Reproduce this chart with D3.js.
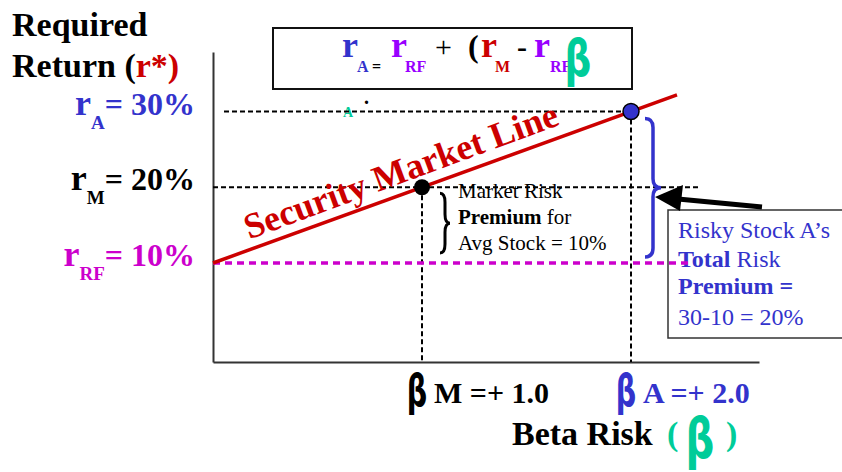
<!DOCTYPE html>
<html>
<head>
<meta charset="utf-8">
<script src="https://cdn.jsdelivr.net/npm/d3@7"></script>
<style>
body { margin: 0; background: #fff; }
svg { display: block; }
</style>
</head>
<body>
<div id="chart"></div>
<script>
// 증권시장선 (SML) 데이터
var betas = [0, 1, 2];
var returns = [10, 20, 30];
var pointNames = ["RF", "M", "A"];
var valueLabels = ["= 10%", "= 20%", "= 30%"];
var smlBeta = [0, 2.22];
var smlReturn = [10, 32.2];
var betaLabels = ["M =+ 1.0", "A =+ 2.0"];

var serif = "'Liberation Serif', 'Times New Roman', serif";
var blue = "#3333cc", magenta = "#cc00cc", red = "#cc0000", purple = "#9900ff", teal = "#00cc99";
var labelColor = [magenta, "#000", blue];

var svg = d3.select("#chart").append("svg")
    .attr("width", 842)
    .attr("height", 472);

var x = d3.scaleLinear().domain([0, 2]).range([213, 631]);
var y = d3.scaleLinear().domain([10, 30]).range([263, 111.5]);
var axisY = 362;

// axes (no ticks)
var xa = x.copy().domain([0, x.invert(759)]).range([213, 759]);
svg.append("g").attr("transform", "translate(0," + axisY + ")")
    .call(d3.axisBottom(xa).tickValues([]).tickSizeOuter(0))
    .select(".domain").attr("stroke", "#333").attr("stroke-width", 2);
var ya = y.copy().domain([y.invert(axisY), y.invert(52)]).range([axisY, 52]);
svg.append("g").attr("transform", "translate(213,0)")
    .call(d3.axisLeft(ya).tickValues([]).tickSizeOuter(0))
    .select(".domain").attr("stroke", "#333").attr("stroke-width", 2);

// 수식 박스
svg.append("rect")
    .attr("x", 273).attr("y", 28).attr("width", 359).attr("height", 61)
    .attr("fill", "none").attr("stroke", "#111").attr("stroke-width", 2);

var formula = [
    {t: "r", x: 342, y: 57, s: 36, c: blue},
    {t: "A", x: 357, y: 72, s: 16, c: blue},
    {t: "=", x: 372, y: 72, s: 16, c: "#000"},
    {t: "r", x: 391, y: 57, s: 36, c: purple},
    {t: "RF", x: 405, y: 72, s: 16, c: purple},
    {t: "+", x: 435, y: 57, s: 30, c: "#000", w: "normal"},
    {t: "(", x: 468, y: 57, s: 32, c: "#000"},
    {t: "r", x: 481, y: 57, s: 36, c: red},
    {t: "M", x: 495, y: 72, s: 16, c: red},
    {t: "-", x: 517, y: 57, s: 30, c: "#000"},
    {t: "r", x: 534, y: 57, s: 36, c: purple},
    {t: "RF", x: 550, y: 72, s: 16, c: purple}
];
formula.forEach(function(d) {
    svg.append("text")
        .attr("x", d.x).attr("y", d.y)
        .text(d.t)
        .attr("font-family", serif)
        .attr("font-weight", d.w || "bold")
        .style("font-size", d.s + "px")
        .attr("fill", d.c);
});

// beta glyph helper
function beta(cx, base, size, color, sx) {
    svg.append("text")
        .attr("transform", "translate(" + cx + "," + base + ") scale(" + sx + ",1)")
        .attr("text-anchor", "middle")
        .text("β")
        .attr("font-family", "'DejaVu Sans', sans-serif")
        .attr("font-weight", "bold")
        .style("font-size", size + "px")
        .attr("fill", color);
}
beta(578, 76, 52, teal, 0.72);

svg.append("text").attr("x", 343).attr("y", 117).text("A")
    .attr("font-family", serif).attr("font-weight", "bold")
    .style("font-size", "14px").attr("fill", teal);
svg.append("text").attr("x", 364).attr("y", 104).text(".")
    .attr("font-family", serif).attr("font-weight", "bold")
    .style("font-size", "20px").attr("fill", "#000");

// 점선
svg.append("line")
    .attr("x1", 224).attr("y1", y(returns[2])).attr("x2", x(betas[2])).attr("y2", y(returns[2]))
    .attr("stroke", "#000").attr("stroke-width", 2).attr("stroke-dasharray", "5,3");
svg.append("line")
    .attr("x1", 213).attr("y1", y(returns[1])).attr("x2", 700).attr("y2", y(returns[1]))
    .attr("stroke", "#000").attr("stroke-width", 2).attr("stroke-dasharray", "5,3");
for (var i = 1; i < 3; i++) {
    svg.append("line")
        .attr("x1", x(betas[i])).attr("y1", y(returns[i]))
        .attr("x2", x(betas[i])).attr("y2", axisY)
        .attr("stroke", "#000").attr("stroke-width", 2).attr("stroke-dasharray", "5,3");
}

// 오른쪽 박스
svg.append("rect")
    .attr("x", 668).attr("y", 210).attr("width", 200).attr("height", 128)
    .attr("fill", "#fff").attr("stroke", "#333").attr("stroke-width", 1.5);
var boxLines = [
    [{t: "Risky Stock A’s", w: "normal"}],
    [{t: "Total", w: "bold"}, {t: " Risk", w: "normal"}],
    [{t: "Premium =", w: "bold"}],
    [{t: "30-10 = 20%", w: "normal"}]
];
var boxBase = [238, 267, 294, 325];
boxLines.forEach(function(line, i) {
    var tx = svg.append("text").attr("x", 678).attr("y", boxBase[i])
        .attr("font-family", serif).style("font-size", "24px").attr("fill", blue);
    line.forEach(function(p) { tx.append("tspan").text(p.t).attr("font-weight", p.w); });
});

// 무위험 수익률 선
svg.append("line")
    .attr("x1", 213).attr("y1", y(returns[0])).attr("x2", 690).attr("y2", y(returns[0]))
    .attr("stroke", magenta).attr("stroke-width", 3.5).attr("stroke-dasharray", "7,5");

// SML
svg.append("line")
    .attr("x1", x(smlBeta[0])).attr("y1", y(smlReturn[0]))
    .attr("x2", x(smlBeta[1])).attr("y2", y(smlReturn[1]))
    .attr("stroke", red).attr("stroke-width", 3.5);

svg.append("text")
    .attr("transform", "translate(405,182) rotate(-20.3)")
    .attr("text-anchor", "middle")
    .text("Security Market Line")
    .attr("font-family", serif).attr("font-weight", "bold")
    .style("font-size", "36px").attr("fill", red);

// 점
svg.append("circle").attr("cx", x(betas[1])).attr("cy", y(returns[1])).attr("r", 8).attr("fill", "#000");
svg.append("circle").attr("cx", x(betas[2])).attr("cy", y(returns[2])).attr("r", 8)
    .attr("fill", blue).attr("stroke", "#000").attr("stroke-width", 1.5);

// braces
function brace(bx, y1, y2, w) {
    var ym = (y1 + y2) / 2, h = w / 2, r = 9;
    return "M" + bx + "," + y1 + " Q" + (bx + h) + "," + y1 + " " + (bx + h) + "," + (y1 + r) +
        " L" + (bx + h) + "," + (ym - r) + " Q" + (bx + h) + "," + ym + " " + (bx + w) + "," + ym +
        " Q" + (bx + h) + "," + ym + " " + (bx + h) + "," + (ym + r) +
        " L" + (bx + h) + "," + (y2 - r) + " Q" + (bx + h) + "," + y2 + " " + bx + "," + y2;
}
svg.append("path").attr("d", brace(645, y(returns[2]) + 7, y(returns[0]) - 6, 16))
    .attr("fill", "none").attr("stroke", blue).attr("stroke-width", 3.5);
svg.append("path").attr("d", brace(440, y(returns[1]) + 6, y(returns[0]) - 10, 10))
    .attr("fill", "none").attr("stroke", "#000").attr("stroke-width", 3);

// 화살표
svg.append("line").attr("x1", 678).attr("y1", 199).attr("x2", 762).attr("y2", 207)
    .attr("stroke", "#000").attr("stroke-width", 5);
svg.append("polygon").attr("points", "655,197 683,185 680,211").attr("fill", "#000");

// Market risk 설명
var mkt = [
    [{t: "Market Risk", w: "normal"}],
    [{t: "Premium", w: "bold"}, {t: " for", w: "normal"}],
    [{t: "Avg Stock = 10%", w: "normal"}]
];
mkt.forEach(function(line, i) {
    var tx = svg.append("text").attr("x", 458).attr("y", 198 + 26 * i)
        .attr("font-family", serif).style("font-size", "21px").attr("fill", "#000");
    line.forEach(function(p) { tx.append("tspan").text(p.t).attr("font-weight", p.w); });
});

// 왼쪽 라벨
svg.append("text").attr("x", 12).attr("y", 36).text("Required")
    .attr("font-family", serif).attr("font-weight", "bold").style("font-size", "34px");
var rt = svg.append("text").attr("x", 12).attr("y", 77)
    .attr("font-family", serif).attr("font-weight", "bold").style("font-size", "34px");
rt.append("tspan").text("Return (");
rt.append("tspan").text("r*)").attr("fill", red);

for (var i = 0; i < 3; i++) {
    var ly = y(returns[i]) + 3;
    var t = svg.append("text").attr("x", 195).attr("y", ly)
        .attr("text-anchor", "end")
        .attr("font-family", serif).attr("font-weight", "bold")
        .attr("fill", labelColor[i]);
    t.append("tspan").text("r").style("font-size", "36px");
    t.append("tspan").text(pointNames[i]).style("font-size", "19px").attr("dy", 14);
    t.append("tspan").text(valueLabels[i]).style("font-size", "32px").attr("dy", -14);
}

// 아래 라벨
var betaColor = ["#000", blue];
for (var i = 0; i < 2; i++) {
    var bx = x(betas[i + 1]);
    beta(bx - 5, 406, 44, betaColor[i], 0.65);
    svg.append("text").attr("x", bx + 12).attr("y", 403).text(betaLabels[i])
        .attr("font-family", serif).attr("font-weight", "bold")
        .style("font-size", "30px").attr("fill", betaColor[i]);
}
svg.append("text").attr("x", 512).attr("y", 445).text("Beta Risk")
    .attr("font-family", serif).attr("font-weight", "bold").style("font-size", "34px");
svg.append("text").attr("x", 667).attr("y", 445).text("(")
    .attr("font-family", serif).attr("font-weight", "bold").style("font-size", "34px").attr("fill", teal);
svg.append("text").attr("x", 726).attr("y", 445).text(")")
    .attr("font-family", serif).attr("font-weight", "bold").style("font-size", "34px").attr("fill", teal);
beta(700, 458, 56, teal, 0.72);
</script>
</body>
</html>
